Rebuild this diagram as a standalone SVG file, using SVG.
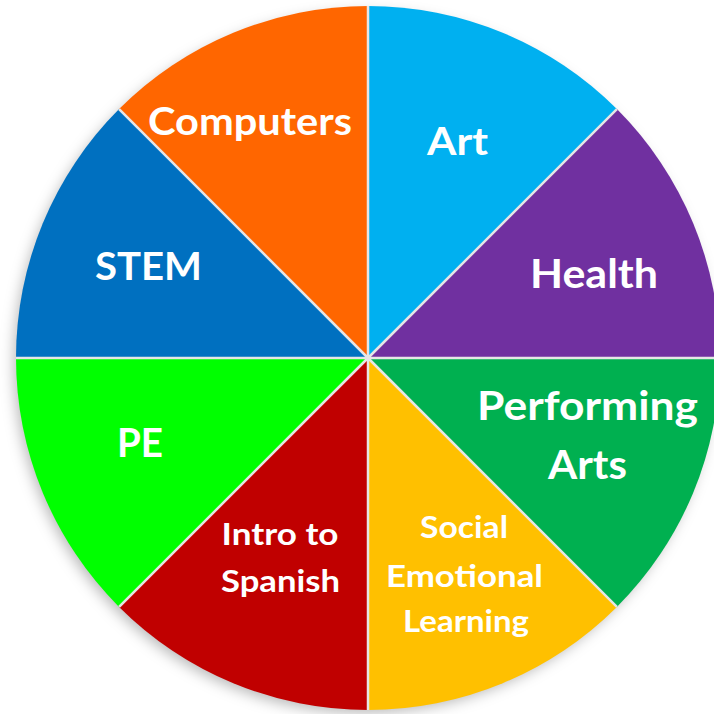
<svg xmlns="http://www.w3.org/2000/svg" width="714" height="714" viewBox="0 0 714 714">
  <defs>
    <filter id="shadow" x="-10%" y="-10%" width="120%" height="120%">
      <feDropShadow dx="-4" dy="5" stdDeviation="7" flood-color="#000" flood-opacity="0.28"/>
    </filter>
  </defs>
  <style>
    .lbl { font-family: Lato, "Open Sans", "Liberation Sans", sans-serif; font-weight: bold; fill: #ffffff; text-anchor: middle; }
    .div { stroke: #e6e6e6; stroke-width: 2.5; fill: none; }
  </style>
  <rect width="714" height="714" fill="#ffffff"/>
  <circle cx="368" cy="358" r="350" fill="#ffffff" filter="url(#shadow)"/>
  <g id="slices">
    <g id="art"><path d="M368,358 L368,6 A352,352 0 0 1 616.9,109.1 Z" fill="#00B0F0"/></g>
    <g id="health"><path d="M368,358 L616.9,109.1 A352,352 0 0 1 720,358 Z" fill="#7030A0"/></g>
    <g id="performing-arts"><path d="M368,358 L720,358 A352,352 0 0 1 616.9,606.9 Z" fill="#00B050"/></g>
    <g id="sel"><path d="M368,358 L616.9,606.9 A352,352 0 0 1 368,710 Z" fill="#FFC000"/></g>
    <g id="spanish"><path d="M368,358 L368,710 A352,352 0 0 1 119.1,606.9 Z" fill="#C00000"/></g>
    <g id="pe"><path d="M368,358 L119.1,606.9 A352,352 0 0 1 16,358 Z" fill="#00FF00"/></g>
    <g id="stem"><path d="M368,358 L16,358 A352,352 0 0 1 119.1,109.1 Z" fill="#0070C0"/></g>
    <g id="computers"><path d="M368,358 L119.1,109.1 A352,352 0 0 1 368,6 Z" fill="#FF6600"/></g>
  </g>
  <g id="dividers">
    <line class="div" x1="368" y1="358" x2="368" y2="6"/>
    <line class="div" x1="368" y1="358" x2="616.9" y2="109.1"/>
    <line class="div" x1="368" y1="358" x2="720" y2="358"/>
    <line class="div" x1="368" y1="358" x2="616.9" y2="606.9"/>
    <line class="div" x1="368" y1="358" x2="368" y2="710"/>
    <line class="div" x1="368" y1="358" x2="119.1" y2="606.9"/>
    <line class="div" x1="368" y1="358" x2="16" y2="358"/>
    <line class="div" x1="368" y1="358" x2="119.1" y2="109.1"/>
  </g>
  <g id="labels">
    <text class="lbl" x="250" y="135" font-size="38" textLength="204" lengthAdjust="spacingAndGlyphs">Computers</text>
    <text class="lbl" x="457.5" y="155" font-size="38" textLength="61" lengthAdjust="spacingAndGlyphs">Art</text>
    <text class="lbl" x="594" y="288" font-size="40" textLength="128" lengthAdjust="spacingAndGlyphs">Health</text>
    <text class="lbl" x="148.5" y="280" font-size="39" textLength="107" lengthAdjust="spacingAndGlyphs">STEM</text>
    <text class="lbl" x="140" y="457" font-size="41" textLength="46" lengthAdjust="spacingAndGlyphs">PE</text>
    <text class="lbl" x="587.5" y="420" font-size="40" textLength="221" lengthAdjust="spacingAndGlyphs">Performing</text>
    <text class="lbl" x="587.5" y="479" font-size="40" textLength="79" lengthAdjust="spacingAndGlyphs">Arts</text>
    <text class="lbl" x="280" y="545" font-size="31" textLength="117" lengthAdjust="spacingAndGlyphs">Intro to</text>
    <text class="lbl" x="280.5" y="592" font-size="31" textLength="119" lengthAdjust="spacingAndGlyphs">Spanish</text>
    <text class="lbl" x="464" y="538" font-size="30" textLength="88" lengthAdjust="spacingAndGlyphs">Social</text>
    <text class="lbl" x="464.5" y="587" font-size="30" textLength="157" lengthAdjust="spacingAndGlyphs">Emotional</text>
    <text class="lbl" x="466" y="632" font-size="30" textLength="126" lengthAdjust="spacingAndGlyphs">Learning</text>
  </g>
</svg>
